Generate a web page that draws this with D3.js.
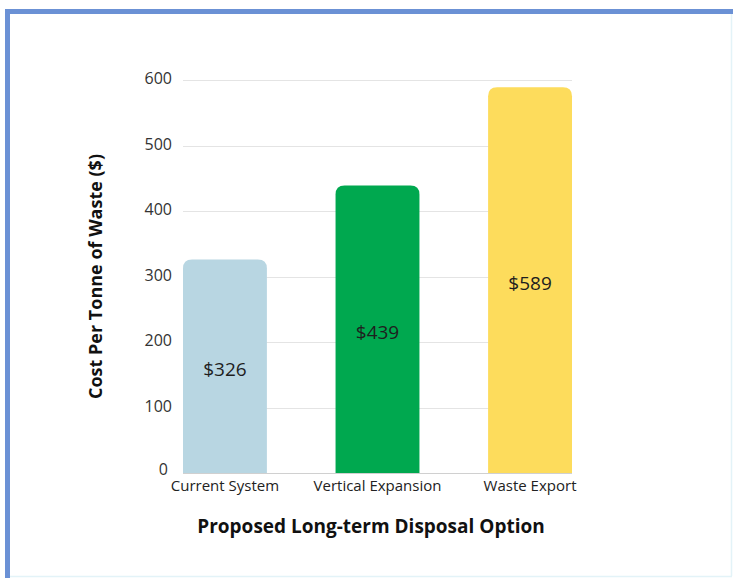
<!DOCTYPE html>
<html>
<head>
<meta charset="utf-8">
<script src="https://cdn.jsdelivr.net/npm/d3@7"></script>
<style>
  html, body { margin: 0; padding: 0; background: #ffffff; }
  svg { display: block; font-family: "Open Sans", sans-serif; }
</style>
</head>
<body>
<svg id="chart" width="733" height="578"></svg>
<script>
// Disposal options and cost per tonne
const categories = ["Current System", "Vertical Expansion", "Waste Export"];
const costs = [326, 439, 589];
const barColors = ["#b8d6e2", "#00a84f", "#fddc5c"];
const yTicks = [0, 100, 200, 300, 400, 500, 600];

const svg = d3.select("#chart");
const W = 733, H = 578;
const plot = { left: 183, right: 572, top: 80, bottom: 473 };

// Frame around the card
svg.append("rect")
  .attr("x", 7.5).attr("y", 11.5)
  .attr("width", W + 20).attr("height", H + 20)
  .attr("fill", "none")
  .attr("stroke", "#6b91d5")
  .attr("stroke-width", 5);
svg.append("line")
  .attr("x1", 731.5).attr("x2", 731.5).attr("y1", 14).attr("y2", 576)
  .attr("stroke", "#e3f3f8").attr("stroke-width", 1.5);
svg.append("line")
  .attr("x1", 10).attr("x2", 732).attr("y1", 576.5).attr("y2", 576.5)
  .attr("stroke", "#e3f3f8").attr("stroke-width", 1.5);

const x = d3.scaleBand()
  .domain(categories)
  .range([plot.left, plot.right])
  .paddingInner(0.45)
  .paddingOuter(0);

const y = d3.scaleLinear()
  .domain([0, 600])
  .range([plot.bottom, plot.top]);

// Horizontal gridlines
svg.append("g")
  .selectAll("line")
  .data(yTicks)
  .join("line")
  .attr("x1", plot.left).attr("x2", plot.right)
  .attr("y1", d => Math.round(y(d)) + 0.5)
  .attr("y2", d => Math.round(y(d)) + 0.5)
  .attr("stroke", d => d === 0 ? "#d0d0d0" : "#e4e4e4")
  .attr("stroke-width", 1);

// Y tick labels
svg.append("g")
  .selectAll("text")
  .data(yTicks)
  .join("text")
  .attr("x", d => d === 0 ? plot.left - 15 : plot.left - 11)
  .attr("y", d => y(d) - (d === 0 ? 2 : 0))
  .attr("text-anchor", "end")
  .attr("dominant-baseline", "middle")
  .attr("font-size", 16)
  .attr("fill", "#333")
  .text(d => d);

// Bars with rounded top corners
const r = 9;
function barPath(d, i) {
  const x0 = x(categories[i]);
  const x1 = x0 + x.bandwidth();
  const yt = y(d);
  const yb = y(0);
  return `M${x0},${yb} L${x0},${yt + r} Q${x0},${yt} ${x0 + r},${yt} ` +
         `L${x1 - r},${yt} Q${x1},${yt} ${x1},${yt + r} L${x1},${yb} Z`;
}
svg.append("g")
  .selectAll("path")
  .data(costs)
  .join("path")
  .attr("d", barPath)
  .attr("fill", (d, i) => barColors[i]);

// Value labels inside bars
svg.append("g")
  .selectAll("text")
  .data(costs)
  .join("text")
  .attr("x", (d, i) => x(categories[i]) + x.bandwidth() / 2)
  .attr("y", d => y(d / 2) + 5)
  .attr("text-anchor", "middle")
  .attr("dominant-baseline", "middle")
  .attr("font-size", 19)
  .attr("fill", "#1e1e1e")
  .text(d => "$" + d);

// Category labels
svg.append("g")
  .selectAll("text")
  .data(categories)
  .join("text")
  .attr("x", d => x(d) + x.bandwidth() / 2)
  .attr("y", plot.bottom + 14)
  .attr("text-anchor", "middle")
  .attr("dominant-baseline", "middle")
  .attr("font-size", 15)
  .attr("fill", "#222")
  .text(d => d);

// Axis titles
svg.append("text")
  .attr("x", 371)
  .attr("y", 528)
  .attr("text-anchor", "middle")
  .attr("dominant-baseline", "middle")
  .attr("font-size", 19)
  .attr("font-weight", "bold")
  .attr("fill", "#111")
  .text("Proposed Long-term Disposal Option");

svg.append("text")
  .attr("transform", `translate(97, ${(plot.top + plot.bottom) / 2}) rotate(-90)`)
  .attr("text-anchor", "middle")
  .attr("dominant-baseline", "middle")
  .attr("font-size", 18)
  .attr("font-weight", "bold")
  .attr("fill", "#111")
  .text("Cost Per Tonne of Waste ($)");
</script>
</body>
</html>
